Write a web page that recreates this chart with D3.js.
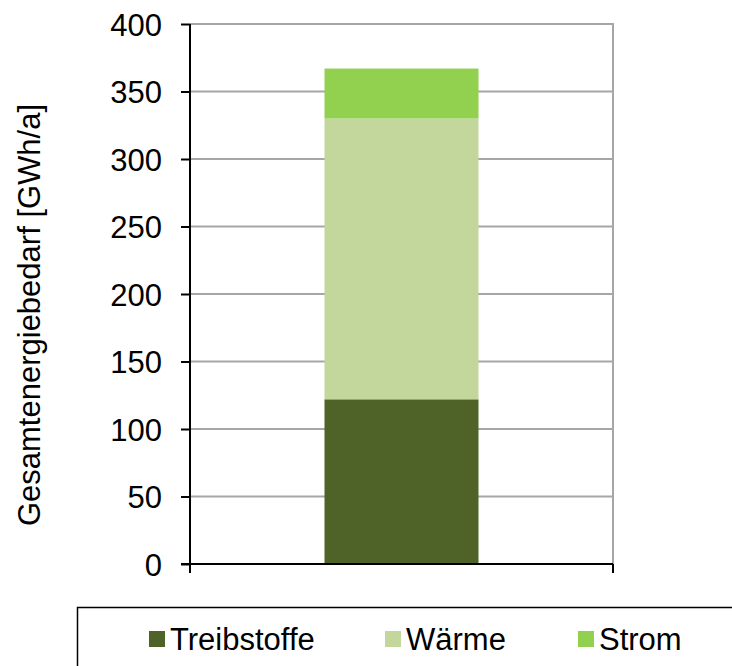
<!DOCTYPE html>
<html>
<head>
<meta charset="utf-8">
<script src="https://cdn.jsdelivr.net/npm/d3@7"></script>
<style>
  html, body { margin: 0; padding: 0; background: #fff; }
  svg { display: block; font-family: "Liberation Sans", Arial, sans-serif; }
</style>
</head>
<body>
<div id="chart"></div>
<script>
// Energy demand, one stacked column
const categories = [""];
const seriesNames = ["Treibstoffe", "Wärme", "Strom"];
const treibstoffe = [122];
const waerme = [208];
const strom = [37];
const seriesColors = ["#4F6228", "#C3D69B", "#92D050"];
const yTicks = [0, 50, 100, 150, 200, 250, 300, 350, 400];
const yLabel = "Gesamtenergiebedarf [GWh/a]";

const W = 732, H = 666;
const FONT = "Liberation Sans, Arial, sans-serif";
const FS = "31px";
const plot = { left: 190, right: 613, top: 24, bottom: 564 };

const svg = d3.select("#chart").append("svg")
  .attr("width", W).attr("height", H);

const x = d3.scaleBand().domain(categories)
  .range([plot.left, plot.right]).paddingInner(0).paddingOuter(0);
const y = d3.scaleLinear().domain([0, 400]).range([plot.bottom, plot.top]);

// gridlines
svg.append("g").selectAll("line").data(yTicks.filter(d => d > 0)).join("line")
  .attr("x1", plot.left).attr("x2", plot.right)
  .attr("y1", d => y(d)).attr("y2", d => y(d))
  .attr("stroke", "#a6a6a6").attr("stroke-width", 2);

// right frame edge
svg.append("line")
  .attr("x1", plot.right).attr("x2", plot.right)
  .attr("y1", plot.top - 1).attr("y2", plot.bottom)
  .attr("stroke", "#a6a6a6").attr("stroke-width", 2);

// stacked bar
const rows = categories.map((c, i) => ({
  cat: c, Treibstoffe: treibstoffe[i], "Wärme": waerme[i], Strom: strom[i]
}));
const stack = d3.stack().keys(seriesNames)(rows);
const barW = 154;
svg.append("g").selectAll("g").data(stack).join("g")
  .attr("fill", (d, i) => seriesColors[i])
  .selectAll("rect").data(d => d).join("rect")
  .attr("x", d => x(d.data.cat) + x.bandwidth() / 2 - barW / 2)
  .attr("width", barW)
  .attr("y", d => y(d[1]))
  .attr("height", d => y(d[0]) - y(d[1]));

// y axis
const yAxis = d3.axisLeft(y).tickValues(yTicks).tickSize(9).tickPadding(19);
const gy = svg.append("g").attr("transform", `translate(${plot.left},0)`).call(yAxis);
gy.attr("font-size", null).attr("font-family", null);
gy.select(".domain").attr("stroke", "#000").attr("stroke-width", 2)
  .attr("d", `M0,${plot.top}V${plot.bottom}`);
gy.selectAll(".tick line").attr("stroke", "#000").attr("stroke-width", 2);
gy.selectAll(".tick text")
  .style("font-size", FS).style("font-family", FONT)
  .attr("fill", "#000").attr("dy", "0.36em");

// x axis: line with ticks at category boundaries
const gx = svg.append("g");
gx.append("line")
  .attr("x1", plot.left - 9).attr("x2", plot.right)
  .attr("y1", plot.bottom).attr("y2", plot.bottom)
  .attr("stroke", "#000").attr("stroke-width", 2);
gx.selectAll("line.tk").data([plot.left, plot.right]).join("line")
  .attr("class", "tk")
  .attr("x1", d => d).attr("x2", d => d)
  .attr("y1", plot.bottom).attr("y2", plot.bottom + 9)
  .attr("stroke", "#000").attr("stroke-width", 2);

// y label
svg.append("text")
  .attr("transform", `translate(40,315) rotate(-90)`)
  .attr("text-anchor", "middle")
  .style("font-size", FS).style("font-family", FONT)
  .attr("fill", "#000")
  .text(yLabel);

// legend
svg.append("rect")
  .attr("x", 77.5).attr("y", 607.5).attr("width", 700).attr("height", 80)
  .attr("fill", "none").attr("stroke", "#000").attr("stroke-width", 1.5);
const legendX = [149, 385, 578];
const lg = svg.append("g").selectAll("g").data(seriesNames).join("g")
  .attr("transform", (d, i) => `translate(${legendX[i]},631)`);
lg.append("rect").attr("width", 16).attr("height", 16)
  .attr("fill", (d, i) => seriesColors[i]);
lg.append("text").attr("x", 21).attr("y", 18.5)
  .style("font-size", FS).style("font-family", FONT)
  .attr("fill", "#000")
  .text(d => d);
</script>
</body>
</html>
